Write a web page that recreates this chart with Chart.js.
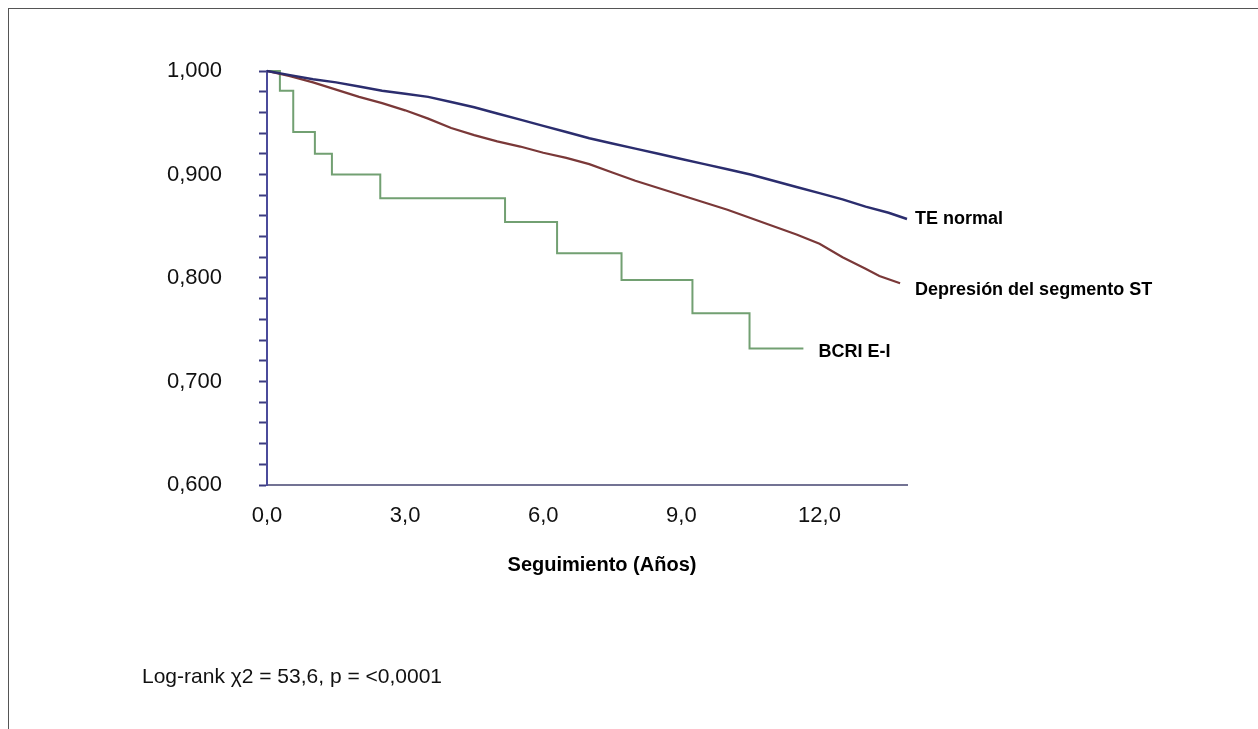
<!DOCTYPE html>
<html>
<head>
<meta charset="utf-8">
<script src="https://cdn.jsdelivr.net/npm/chart.js@4.4.0/dist/chart.umd.min.js"></script>
<style>
  body { margin: 0; background: #fff; }
  #wrap { position: relative; width: 1258px; height: 729px; overflow: hidden; }
  #frame { position: absolute; left: 8px; top: 8px; right: 0; bottom: 0; border-left: 1px solid #555; border-top: 1px solid #555; }
  #KmCvs { position: absolute; left: 0; top: 0; }
  #logrank { position: absolute; left: 142px; top: 664px; font: 21px "Liberation Sans", Arial, sans-serif; color: #111; }
</style>
</head>
<body>
<div id="wrap">
  <div id="frame"></div>
  <canvas id="KmCvs" width="1258" height="729"></canvas>
  <div id="logrank">Log-rank χ2 = 53,6, p = &lt;0,0001</div>
</div>
<script>
// curvas de supervivencia (años, proporción)
const seriesNames = ['TE normal', 'Depresión del segmento ST', 'BCRI E-I'];
const teYears = [0, 0.5, 1, 1.5, 2, 2.5, 3, 3.5, 4, 4.5, 5, 5.5, 6, 6.5, 7, 7.5, 8, 8.5, 9, 9.5, 10, 10.5, 11, 11.5, 12, 12.5, 13, 13.5, 13.9];
const teSurv = [1.000, 0.996, 0.992, 0.989, 0.985, 0.981, 0.978, 0.975, 0.970, 0.965, 0.959, 0.953, 0.947, 0.941, 0.935, 0.930, 0.925, 0.920, 0.915, 0.910, 0.905, 0.900, 0.894, 0.888, 0.882, 0.876, 0.869, 0.863, 0.857];
const stYears = [0, 0.5, 1, 1.5, 2, 2.5, 3, 3.5, 4, 4.5, 5, 5.5, 6, 6.5, 7, 7.5, 8, 8.5, 9, 9.5, 10, 10.5, 11, 11.5, 12, 12.5, 13, 13.3, 13.75];
const stSurv = [1.000, 0.995, 0.989, 0.982, 0.975, 0.969, 0.962, 0.954, 0.945, 0.938, 0.932, 0.927, 0.921, 0.916, 0.910, 0.902, 0.894, 0.887, 0.880, 0.873, 0.866, 0.858, 0.850, 0.842, 0.833, 0.820, 0.809, 0.802, 0.795];
const bcriYears = [0, 0.28, 0.57, 1.04, 1.41, 2.46, 5.17, 6.30, 7.70, 9.24, 10.48, 11.65];
const bcriSurv = [1.000, 0.981, 0.941, 0.920, 0.900, 0.877, 0.854, 0.824, 0.798, 0.766, 0.732, 0.732];
const xTicks = [0, 3, 6, 9, 12];
const yMajor = [0.6, 0.7, 0.8, 0.9, 1.0];
const xTitle = 'Seguimiento (Años)';

const toPts = (xs, ys) => xs.map((v, i) => ({x: v, y: ys[i]}));
const comma = (v, d) => v.toFixed(d).replace('.', ',');

// etiquetas al final de cada curva + titulo del eje x
const labelDx = [8, 15, 15];
const labelDy = [0, 7, 4];
const endLabels = {
  id: 'endLabels',
  afterDatasetsDraw(chart) {
    const {ctx, scales: {x, y}} = chart;
    ctx.save();
    ctx.fillStyle = '#000';
    ctx.textBaseline = 'middle';
    ctx.font = 'bold 18px "Liberation Sans", Arial, sans-serif';
    chart.data.datasets.forEach((ds, i) => {
      const last = ds.data[ds.data.length - 1];
      ctx.fillText(ds.label, x.getPixelForValue(last.x) + labelDx[i], y.getPixelForValue(last.y) + labelDy[i]);
    });
    ctx.font = 'bold 20px "Liberation Sans", Arial, sans-serif';
    ctx.textAlign = 'center';
    ctx.fillText(xTitle, (x.left + x.right) / 2 + 15, 565);
    ctx.restore();
  }
};

const canvas = document.getElementById('KmCvs');
const kmCtx = canvas.getContext('2d');
const config = {
  type: 'line',
  data: {
    datasets: [
      { label: seriesNames[0], data: toPts(teYears, teSurv), borderColor: '#2b2d6e', borderWidth: 2.5 },
      { label: seriesNames[1], data: toPts(stYears, stSurv), borderColor: '#7a3838', borderWidth: 2.2 },
      { label: seriesNames[2], data: toPts(bcriYears, bcriSurv), borderColor: '#72a072', borderWidth: 2, stepped: 'before' }
    ]
  },
  options: {
    responsive: false,
    animation: false,
    events: [],
    elements: { point: { radius: 0 }, line: { tension: 0 } },
    datasets: { line: { clip: false } },
    layout: { padding: { top: 71, right: 1258 - 907, left: 0, bottom: 0 } },
    plugins: { legend: { display: false }, tooltip: { enabled: false } },
    scales: {
      x: {
        type: 'linear',
        min: 0,
        max: 13.9,
        afterFit: s => { s.height = 729 - 485; },
        afterBuildTicks: s => { s.ticks = xTicks.map(v => ({value: v})); },
        grid: { display: false },
        border: { display: true, color: '#737394', width: 2 },
        ticks: {
          padding: 10,
          autoSkip: false,
          maxRotation: 0,
          color: '#111',
          font: { family: '"Liberation Sans", Arial, sans-serif', size: 22 },
          callback: v => comma(v, 1)
        }
      },
      y: {
        type: 'linear',
        min: 0.6,
        max: 1.0,
        afterFit: s => { s.width = 267; },
        afterBuildTicks: s => {
          const t = [];
          for (let i = 0; i <= 20; i++) t.push({value: Math.round((0.6 + i * 0.02) * 1000) / 1000});
          s.ticks = t;
        },
        grid: { display: true, drawOnChartArea: false, drawTicks: true, tickLength: 8, tickWidth: 2, tickColor: '#3c3c80' },
        border: { display: true, color: '#4b4b9b', width: 2 },
        ticks: {
          padding: 37,
          autoSkip: false,
          color: '#111',
          font: { family: '"Liberation Sans", Arial, sans-serif', size: 22 },
          callback: v => yMajor.some(m => Math.abs(m - v) < 1e-6) ? comma(v, 3) : ''
        }
      }
    }
  },
  plugins: [endLabels]
};
const kmChart = new Chart(kmCtx, config);
</script>
</body>
</html>
